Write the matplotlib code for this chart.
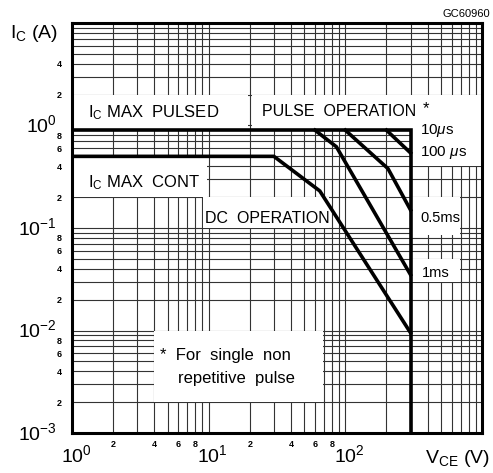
import numpy as np
import matplotlib.pyplot as plt
import matplotlib.transforms as mtransforms
from matplotlib.patches import Rectangle
from matplotlib.ticker import FixedLocator, FixedFormatter

plt.rcParams.update({
    'font.family': ['Liberation Sans', 'DejaVu Sans'],
    'mathtext.fontset': 'custom',
    'mathtext.rm': 'Liberation Sans',
    'mathtext.it': 'Liberation Sans:italic',
    'axes.unicode_minus': True,
})

# ==== SOA curves: V_CE (V) vs I_C (A) ====
dc_v = [1, 30, 65, 300]
dc_i = [0.5, 0.5, 0.23, 0.0095]
ms1_v = [60, 86, 300]
ms1_i = [0.9, 0.62, 0.035]
ms05_v = [100, 205, 300]
ms05_i = [0.9, 0.38, 0.15]
us100_v = [200, 300]
us100_i = [0.9, 0.54]
limit_v = [1, 300, 300]
limit_i = [0.9, 0.9, 1e-3]

# ==== ticks ====
x_major = [1, 10, 100, 1000]
x_major_lbl = ['10$^{0}$', '10$^{1}$', '10$^{2}$', '']
y_major = [1e-3, 1e-2, 1e-1, 1, 10]
y_major_lbl = ['10$^{-3}$', '10$^{-2}$', '10$^{-1}$', '10$^{0}$', '']
mant = [2, 3, 4, 5, 6, 7, 8, 9]
mant_lbl = ['2', '', '4', '', '6', '', '8', '']

x_minor = [m * d for d in (1, 10, 100) for m in mant]
x_minor_lbl = mant_lbl * 2 + [''] * 8
y_minor = [m * d for d in (1e-3, 1e-2, 1e-1, 1) for m in mant]
y_minor_lbl = mant_lbl * 3 + ['2', '', '4', '', '', '', '', '']

# white label backgrounds (v0, v1, i0, i1)
boxes = [(1, 19.3, 0.9, 2), (20.8, 300, 0.9, 2), (300, 1000, 0.4, 2),
         (1, 9.8, 0.2, 0.5), (9.1, 76, 0.1, 0.2), (300, 690, 0.085, 0.2),
         (300, 690, 0.03, 0.05), (4, 69, 0.002, 0.01)]

fig = plt.figure(figsize=(4.93, 4.73), dpi=100)
ax = fig.add_axes([72/493, 40/473, 410/493, 410/473])
ax.set_xscale('log')
ax.set_yscale('log')
ax.set_xlim(1, 1000)
ax.set_ylim(1e-3, 10)

ax.xaxis.set_major_locator(FixedLocator(x_major))
ax.xaxis.set_major_formatter(FixedFormatter(x_major_lbl))
ax.xaxis.set_minor_locator(FixedLocator(x_minor))
ax.xaxis.set_minor_formatter(FixedFormatter(x_minor_lbl))
ax.yaxis.set_major_locator(FixedLocator(y_major))
ax.yaxis.set_major_formatter(FixedFormatter(y_major_lbl))
ax.yaxis.set_minor_locator(FixedLocator(y_minor))
ax.yaxis.set_minor_formatter(FixedFormatter(y_minor_lbl))

ax.tick_params(which='both', length=0)
ax.tick_params(axis='x', which='major', labelsize=14, pad=8)
ax.tick_params(axis='x', which='minor', labelsize=6.5, pad=5)
ax.tick_params(axis='y', which='major', labelsize=14, pad=11)
ax.tick_params(axis='y', which='minor', labelsize=6.5, pad=7.5)
for lbl in ax.get_xminorticklabels() + ax.get_yminorticklabels():
    lbl.set_fontweight('bold')
# decade labels sit a little off their grid line
off_x = mtransforms.ScaledTranslation(4/100, 0, fig.dpi_scale_trans)
for lbl in ax.get_xmajorticklabels():
    lbl.set_transform(lbl.get_transform() + off_x)
off_y = mtransforms.ScaledTranslation(0, 2/100, fig.dpi_scale_trans)
for lbl in ax.get_ymajorticklabels():
    lbl.set_transform(lbl.get_transform() + off_y)

ax.set_axisbelow(True)
ax.grid(which='both', color='0.2', lw=0.8)
for s in ax.spines.values():
    s.set_linewidth(2.2)

for v0, v1, i0, i1 in boxes:
    ax.add_patch(Rectangle((v0, i0), v1 - v0, i1 - i0, fc='white', ec='none', zorder=1))

for v, i in [(dc_v, dc_i), (ms1_v, ms1_i), (ms05_v, ms05_i),
             (us100_v, us100_i), (limit_v, limit_i)]:
    ax.plot(v, i, color='black', lw=2.6, zorder=3, solid_joinstyle='miter')

t = ax.transAxes
kw = dict(transform=t, va='center', ha='left', zorder=4)
ax.text(0.039, 0.782, 'I$_\\mathregular{C}$ MAX  PULSED', fontsize=12, **kw)
ax.text(0.463, 0.783, 'PULSE  OPERATION', fontsize=11.5, **kw)
ax.text(0.856, 0.790, '*', fontsize=12, **kw)
ax.text(0.849, 0.739, '10$\\mu$s', fontsize=11, **kw)
ax.text(0.849, 0.683, '100 $\\mu$s', fontsize=11, **kw)
ax.text(0.849, 0.524, '0.5ms', fontsize=10.5, **kw)
ax.text(0.854, 0.390, '1ms', fontsize=10.5, **kw)
ax.text(0.039, 0.610, 'I$_\\mathregular{C}$ MAX  CONT', fontsize=12, **kw)
ax.text(0.324, 0.524, 'DC  OPERATION', fontsize=11.5, **kw)
ax.text(0.215, 0.190, '*  For  single  non', fontsize=12, **kw)
ax.text(0.259, 0.134, 'repetitive  pulse', fontsize=12, **kw)

fig.text(10/493, 1 - 33/473, 'I$_\\mathregular{C}$ (A)', fontsize=14, va='center', ha='left')
fig.text(490/493, 1 - 458/473, 'V$_\\mathregular{CE}$ (V)', fontsize=14, va='center', ha='right')
fig.text(490/493, 1 - 14/473, 'GC60960', fontsize=8, va='center', ha='right')

fig.savefig('out.png', dpi=100)
